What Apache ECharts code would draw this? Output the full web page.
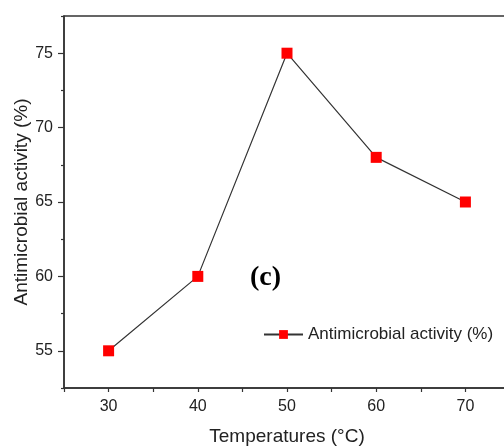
<!DOCTYPE html>
<html><head><meta charset="utf-8">
<script src="https://cdn.jsdelivr.net/npm/echarts@6/dist/echarts.min.js"></script>
<style>html,body{margin:0;padding:0;background:#fff}#c{width:504px;height:448px}</style>
</head><body><div id="c"></div>
<script>
const temperatures = [30, 40, 50, 60, 70];
const activity = [55, 60, 75, 68, 65];
const xTickLabels = [30, 40, 50, 60, 70];
const yTickLabels = [55, 60, 65, 70, 75];
const yMinorTicks = [52.5, 57.5, 62.5, 67.5, 72.5, 77.5];
const seriesName = 'Antimicrobial activity (%)';

const chart = echarts.init(document.getElementById('c'));
const axisCol = '#333';
const font = 'Liberation Sans, Arial, sans-serif';
chart.setOption({
  animation: false,
  grid: {left: 64, top: 16, width: 446, height: 372, outerBoundsMode: 'none', containLabel: false,
         show: true, borderColor: axisCol, borderWidth: 1.5},
  legend: {
    left: 263, top: 326, itemWidth: 39, itemHeight: 11, padding: 0,
    textStyle: {fontFamily: font, fontSize: 17, color: '#222'},
    data: [seriesName]
  },
  graphic: [{type: 'text', x: 265.5, y: 278, style: {text: '(c)', align: 'center', verticalAlign: 'middle', font: 'bold 28px "Liberation Serif", "Times New Roman", serif', fill: '#000'}}],
  xAxis: {
    type: 'value', min: 25, max: 75, interval: 5,
    name: 'Temperatures (°C)', nameLocation: 'middle', nameGap: 39, nameMoveOverlap: false,
    nameTextStyle: {fontFamily: font, fontSize: 19, color: '#222'},
    axisLine: {lineStyle: {color: axisCol, width: 1.5}},
    axisTick: {show: true, length: 4, lineStyle: {color: axisCol, width: 1.2}},
    axisLabel: {customValues: xTickLabels, margin: 11, fontFamily: font, fontSize: 16, color: '#222'},
    splitLine: {show: false}
  },
  yAxis: [{
    type: 'value', min: 52.5, max: 77.5, interval: 2.5,
    name: 'Antimicrobial activity (%)', nameLocation: 'middle', nameGap: 33, nameMoveOverlap: false,
    nameTextStyle: {fontFamily: font, fontSize: 19, color: '#222'},
    axisLine: {show: true, lineStyle: {color: axisCol, width: 1.5}},
    axisTick: {show: true, customValues: yTickLabels, length: 6, lineStyle: {color: axisCol, width: 1.2}},
    axisLabel: {customValues: yTickLabels, margin: 11, fontFamily: font, fontSize: 16, color: '#222'},
    splitLine: {show: false}
  }, {
    type: 'value', min: 52.5, max: 77.5, interval: 2.5, position: 'left',
    axisLine: {show: false},
    axisTick: {show: true, customValues: yMinorTicks, length: 3, lineStyle: {color: axisCol, width: 1.2}},
    axisLabel: {show: false},
    splitLine: {show: false}
  }],
  series: [{
    name: seriesName, type: 'line',
    data: temperatures.map((t, i) => [t, activity[i]]),
    symbol: 'rect', symbolSize: 11,
    itemStyle: {color: '#ff0000'},
    lineStyle: {color: '#333', width: 1.2}
  }]
});
</script></body></html>
